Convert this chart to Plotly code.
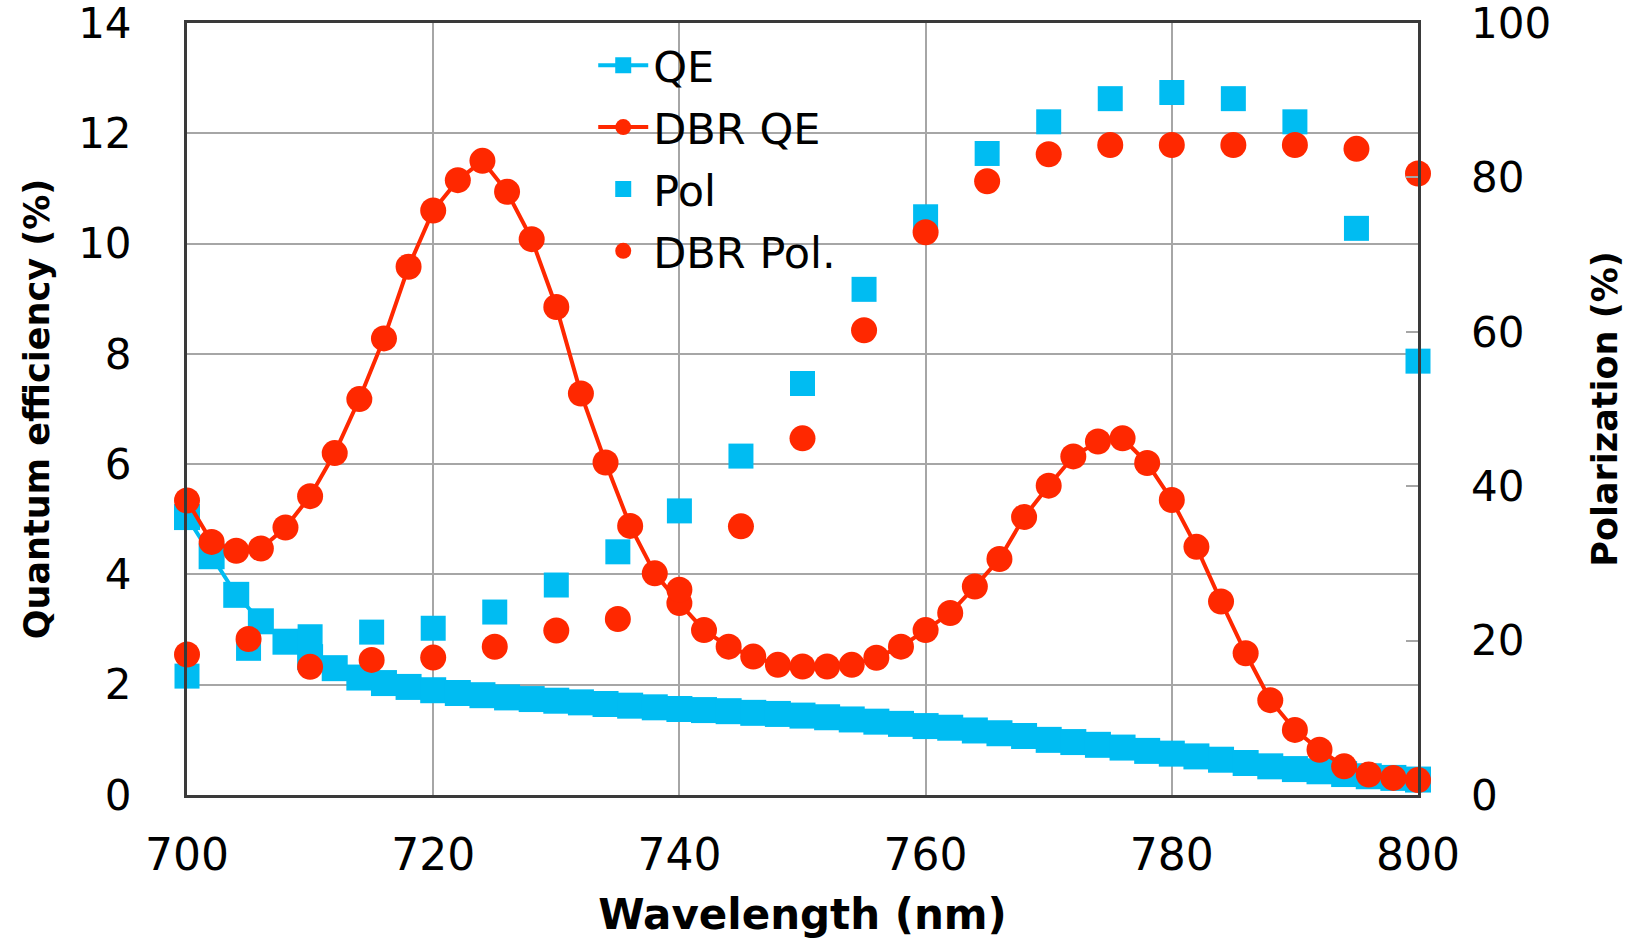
import plotly.graph_objects as go

# ---------------- data ----------------
qe_wl = [700, 702, 704, 706, 708, 710, 712, 714, 716, 718, 720, 722, 724, 726, 728,
         730, 732, 734, 736, 738, 740, 742, 744, 746, 748, 750, 752, 754, 756, 758,
         760, 762, 764, 766, 768, 770, 772, 774, 776, 778, 780, 782, 784, 786, 788,
         790, 792, 794, 796, 798, 800]
qe_val = [5.04, 4.33, 3.63, 3.15, 2.78, 2.50, 2.30, 2.13, 2.03, 1.96, 1.90, 1.85, 1.81, 1.77, 1.74,
          1.71, 1.68, 1.65, 1.62, 1.59, 1.56, 1.54, 1.52, 1.49, 1.47, 1.44, 1.41, 1.37, 1.33, 1.29,
          1.25, 1.22, 1.17, 1.12, 1.07, 1.00, 0.96, 0.91, 0.86, 0.80, 0.75, 0.70, 0.64, 0.58, 0.52,
          0.47, 0.43, 0.38, 0.34, 0.31, 0.28]

dbr_qe_wl = [700, 702, 704, 706, 708, 710, 712, 714, 716, 718, 720, 722, 724, 726, 728,
             730, 732, 734, 736, 738, 740, 742, 744, 746, 748, 750, 752, 754, 756, 758,
             760, 762, 764, 766, 768, 770, 772, 774, 776, 778, 780, 782, 784, 786, 788,
             790, 792, 794, 796, 798, 800]
dbr_qe_val = [5.34, 4.59, 4.43, 4.47, 4.85, 5.42, 6.20, 7.18, 8.28, 9.58, 10.60, 11.15, 11.50, 10.94, 10.08,
              8.85, 7.28, 6.03, 4.88, 4.02, 3.48, 2.99, 2.69, 2.51, 2.36, 2.33, 2.33, 2.36, 2.49, 2.69,
              2.99, 3.30, 3.78, 4.28, 5.04, 5.61, 6.14, 6.41, 6.47, 6.02, 5.35, 4.50, 3.51, 2.57, 1.72,
              1.18, 0.82, 0.52, 0.37, 0.31, 0.27]

pol_wl = [700, 705, 710, 715, 720, 725, 730, 735, 740, 745, 750,
          755, 760, 765, 770, 775, 780, 785, 790, 795, 800]
pol_val = [15.4, 19.0, 20.5, 21.1, 21.6, 23.7, 27.2, 31.5, 36.8, 43.9, 53.3,
           65.5, 74.9, 83.1, 87.2, 90.2, 91.0, 90.2, 87.2, 73.4, 56.2]
dbr_pol_val = [18.2, 20.2, 16.6, 17.5, 17.8, 19.2, 21.3, 22.8, 26.6, 34.8, 46.2,
               60.2, 72.9, 79.5, 83.0, 84.2, 84.2, 84.2, 84.2, 83.7, 80.5]

x_ticks = [700, 720, 740, 760, 780, 800]
y_ticks = [0, 2, 4, 6, 8, 10, 12, 14]
y2_ticks = [0, 20, 40, 60, 80, 100]

CYAN = "#00BCF2"
RED = "#FF2800"
FONT = "DejaVu Sans"
GRID = "#A6A6A6"
AXLINE = "#3A3A3A"

fig = go.Figure()
fig.add_trace(go.Scatter(x=qe_wl, y=qe_val, name="QE", mode="lines+markers",
                         line=dict(color=CYAN, width=4),
                         marker=dict(symbol="square", size=26, color=CYAN),
                         cliponaxis=False, legendgroup="a"))
fig.add_trace(go.Scatter(x=dbr_qe_wl, y=dbr_qe_val, name="DBR QE", mode="lines+markers",
                         line=dict(color=RED, width=4),
                         marker=dict(symbol="circle", size=26, color=RED),
                         cliponaxis=False, legendgroup="b"))
fig.add_trace(go.Scatter(x=pol_wl, y=pol_val, name="Pol", mode="markers",
                         marker=dict(symbol="square", size=25, color=CYAN),
                         yaxis="y2", cliponaxis=False, legendgroup="c"))
fig.add_trace(go.Scatter(x=pol_wl, y=dbr_pol_val, name="DBR Pol.", mode="markers",
                         marker=dict(symbol="circle", size=26, color=RED),
                         yaxis="y2", cliponaxis=False, legendgroup="d"))

fig.update_layout(
    width=1645, height=939, autosize=False,
    margin=dict(l=187, r=227, t=23, b=144, autoexpand=False),
    paper_bgcolor="white", plot_bgcolor="white",
    font=dict(family=FONT, color="black", size=44),
    showlegend=True,
    legend=dict(x=0.33, y=0.99, xanchor="left", yanchor="top",
                bgcolor="rgba(0,0,0,0)", font=dict(size=43, family=FONT),
                traceorder="grouped", tracegroupgap=3, itemwidth=50),
    xaxis=dict(range=[700, 800], tickvals=x_ticks, showgrid=True, gridcolor=GRID, gridwidth=2,
               showline=True, linecolor=AXLINE, linewidth=3, mirror=True, zeroline=False,
               ticks="", ticklabelstandoff=19, automargin=False,
               tickfont=dict(size=44, family=FONT),
               title=dict(text="<b>Wavelength (nm)</b>", font=dict(size=42, family=FONT), standoff=41)),
    yaxis=dict(range=[0, 14], tickvals=y_ticks, showgrid=True, gridcolor=GRID, gridwidth=2,
               showline=True, linecolor=AXLINE, linewidth=3, mirror=True, zeroline=False,
               ticks="", ticklabelstandoff=44, ticklabeloverflow="allow", automargin=False,
               tickfont=dict(size=42, family=FONT),
               title=dict(text="<b>Quantum efficiency (%)</b>", font=dict(size=35, family=FONT), standoff=18)),
    yaxis2=dict(range=[0, 100], tickvals=y2_ticks, overlaying="y", side="right", showgrid=False,
                zeroline=False, showline=False, ticks="inside", ticklen=12, tickwidth=2,
                tickcolor=GRID, ticklabelstandoff=52, ticklabeloverflow="allow", automargin=False,
                tickfont=dict(size=42, family=FONT),
                title=dict(text="<b>Polarization (%)</b>", font=dict(size=35, family=FONT), standoff=42)),
)

fig.write_html("out.html")
